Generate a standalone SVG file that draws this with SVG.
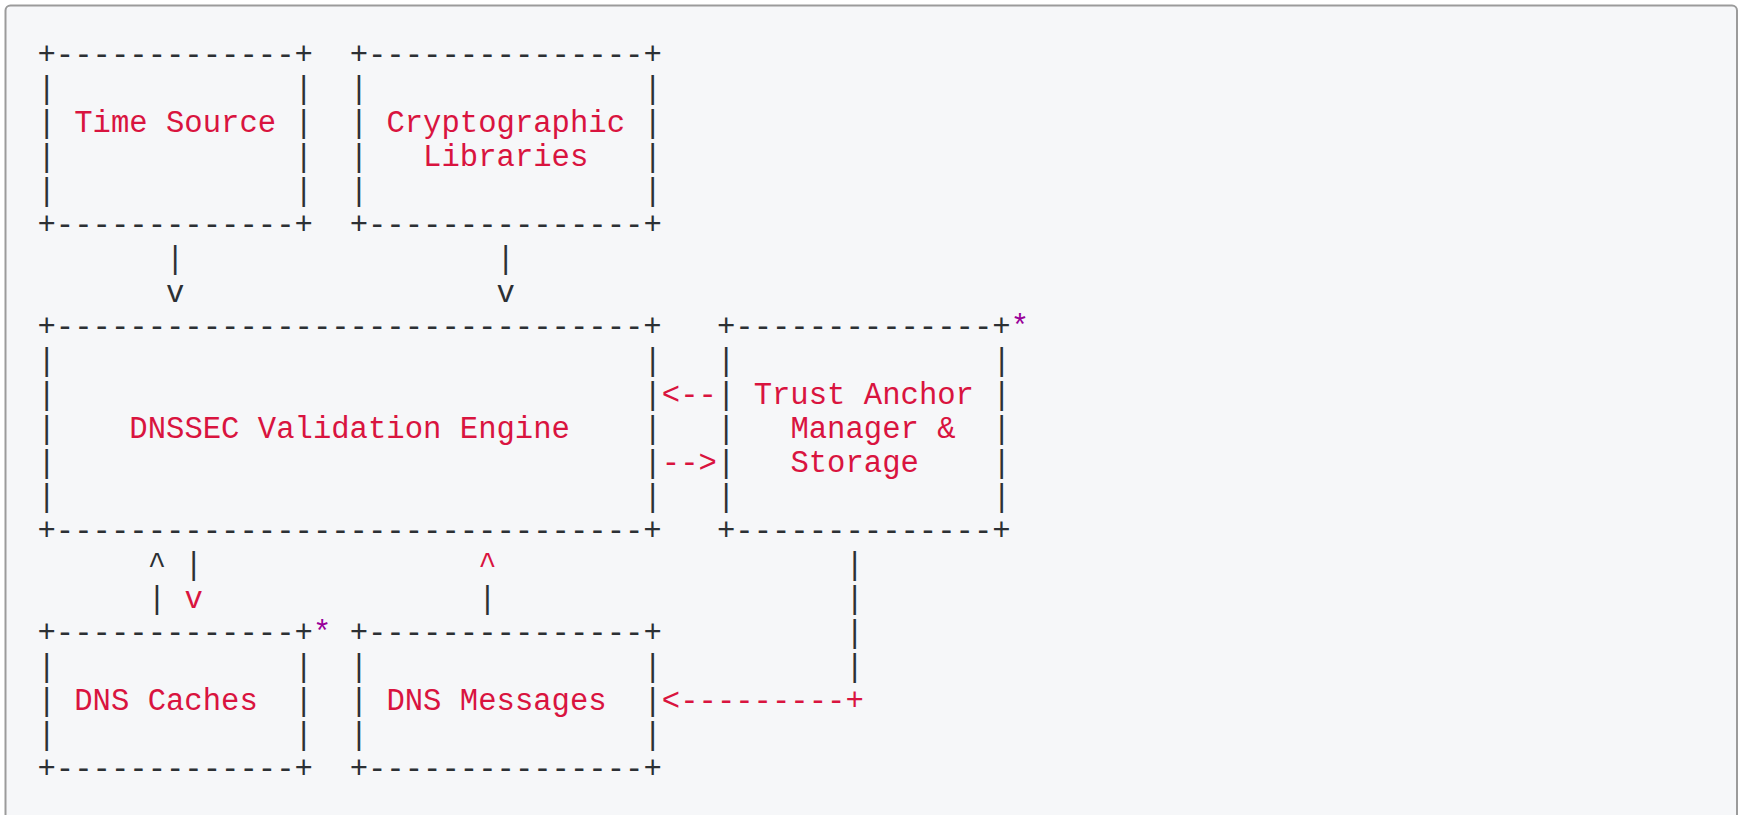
<svg xmlns="http://www.w3.org/2000/svg" width="1739" height="815" viewBox="0 0 1739 815">
  <style>
    .t { font-family: "Liberation Mono", "DejaVu Sans Mono", monospace; font-size: 30.6px; }
    .d { fill: #2c3034; }
    .r { fill: #d9143f; }
    .p { fill: #990099; }
  </style>
  <!-- panel -->
  <rect x="5.5" y="5.5" width="1731.5" height="830" rx="5" ry="5" fill="#f6f7f9" stroke="#9b9b9b" stroke-width="2"/>

  <g id="node-time-source" class="t">
    <text class="d" x="37.5" y="64">+-------------+</text>
    <text class="d" x="37.5" y="98">|</text><text class="d" x="294.58" y="98">|</text>
    <text class="d" x="37.5" y="132">|</text><text class="d" x="294.58" y="132">|</text>
    <text class="d" x="37.5" y="166">|</text><text class="d" x="294.58" y="166">|</text>
    <text class="d" x="37.5" y="200">|</text><text class="d" x="294.58" y="200">|</text>
    <text class="d" x="37.5" y="234">+-------------+</text>
    <text class="r" x="74.23" y="132">Time Source</text>
  </g>

  <g id="node-crypto-libraries" class="t">
    <text class="d" x="349.67" y="64">+---------------+</text>
    <text class="d" x="349.67" y="98">|</text><text class="d" x="643.48" y="98">|</text>
    <text class="d" x="349.67" y="132">|</text><text class="d" x="643.48" y="132">|</text>
    <text class="d" x="349.67" y="166">|</text><text class="d" x="643.48" y="166">|</text>
    <text class="d" x="349.67" y="200">|</text><text class="d" x="643.48" y="200">|</text>
    <text class="d" x="349.67" y="234">+---------------+</text>
    <text class="r" x="386.4" y="132">Cryptographic</text>
    <text class="r" x="423.12" y="166">Libraries</text>
  </g>

  <g id="node-validation-engine" class="t">
    <text class="d" x="37.5" y="336">+--------------------------------+</text>
    <text class="d" x="37.5" y="370">|</text><text class="d" x="643.48" y="370">|</text>
    <text class="d" x="37.5" y="404">|</text><text class="d" x="643.48" y="404">|</text>
    <text class="d" x="37.5" y="438">|</text><text class="d" x="643.48" y="438">|</text>
    <text class="d" x="37.5" y="472">|</text><text class="d" x="643.48" y="472">|</text>
    <text class="d" x="37.5" y="506">|</text><text class="d" x="643.48" y="506">|</text>
    <text class="d" x="37.5" y="540">+--------------------------------+</text>
    <text class="r" x="129.32" y="438">DNSSEC Validation Engine</text>
  </g>

  <g id="node-trust-anchor" class="t">
    <text class="d" x="716.93" y="336">+--------------+</text>
    <text class="p" x="1010.74" y="336">*</text>
    <text class="d" x="716.93" y="370">|</text><text class="d" x="992.38" y="370">|</text>
    <text class="d" x="716.93" y="404">|</text><text class="d" x="992.38" y="404">|</text>
    <text class="d" x="716.93" y="438">|</text><text class="d" x="992.38" y="438">|</text>
    <text class="d" x="716.93" y="472">|</text><text class="d" x="992.38" y="472">|</text>
    <text class="d" x="716.93" y="506">|</text><text class="d" x="992.38" y="506">|</text>
    <text class="d" x="716.93" y="540">+--------------+</text>
    <text class="r" x="753.66" y="404">Trust Anchor</text>
    <text class="r" x="790.38" y="438">Manager &amp;</text>
    <text class="r" x="790.38" y="472">Storage</text>
  </g>

  <g id="node-dns-caches" class="t">
    <text class="d" x="37.5" y="642">+-------------+</text>
    <text class="p" x="312.95" y="642">*</text>
    <text class="d" x="37.5" y="676">|</text><text class="d" x="294.58" y="676">|</text>
    <text class="d" x="37.5" y="710">|</text><text class="d" x="294.58" y="710">|</text>
    <text class="d" x="37.5" y="744">|</text><text class="d" x="294.58" y="744">|</text>
    <text class="d" x="37.5" y="778">+-------------+</text>
    <text class="r" x="74.23" y="710">DNS Caches</text>
  </g>

  <g id="node-dns-messages" class="t">
    <text class="d" x="349.67" y="642">+---------------+</text>
    <text class="d" x="349.67" y="676">|</text><text class="d" x="643.48" y="676">|</text>
    <text class="d" x="349.67" y="710">|</text><text class="d" x="643.48" y="710">|</text>
    <text class="d" x="349.67" y="744">|</text><text class="d" x="643.48" y="744">|</text>
    <text class="d" x="349.67" y="778">+---------------+</text>
    <text class="r" x="386.4" y="710">DNS Messages</text>
  </g>

  <g id="connectors" class="t">
    <!-- time source / crypto libraries into the engine -->
    <text class="d" x="166.04" y="268">|</text>
    <text class="d" x="166.04" y="302">v</text>
    <text class="d" x="496.58" y="268">|</text>
    <text class="d" x="496.58" y="302">v</text>
    <!-- engine <-> trust anchor manager -->
    <text class="r" x="661.84" y="404">&lt;--</text>
    <text class="r" x="661.84" y="472">--&gt;</text>
    <!-- engine <-> caches -->
    <text class="d" x="147.68" y="574">^</text>
    <text class="d" x="147.68" y="608">|</text>
    <text class="d" x="184.4" y="574">|</text>
    <text class="r" x="184.4" y="608">v</text>
    <!-- messages into the engine -->
    <text class="r" x="478.21" y="574">^</text>
    <text class="d" x="478.21" y="608">|</text>
    <!-- trust anchor manager down to messages -->
    <text class="d" x="845.47" y="574">|</text>
    <text class="d" x="845.47" y="608">|</text>
    <text class="d" x="845.47" y="642">|</text>
    <text class="d" x="845.47" y="676">|</text>
    <text class="r" x="661.84" y="710">&lt;---------+</text>
  </g>
</svg>
